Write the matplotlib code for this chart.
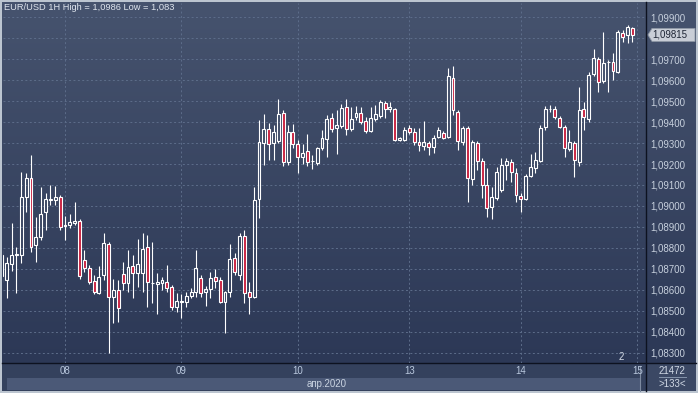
import numpy as np
import matplotlib
matplotlib.use('Agg')
import matplotlib.pyplot as plt
from matplotlib.patches import Rectangle, Polygon
from matplotlib.colors import LinearSegmentedColormap
from matplotlib.ticker import FuncFormatter

# ---------------- data (EUR/USD 1H) ----------------
opens = [1.08767, 1.08648, 1.08724, 1.08765, 1.08767, 1.09043, 1.09133, 1.08814, 1.08852, 1.08971,
         1.09030, 1.09029, 1.09043, 1.08905, 1.08910, 1.08919, 1.08929, 1.08743, 1.08705, 1.08643,
         1.08586, 1.08671, 1.08819, 1.08567, 1.08600, 1.08676, 1.08633, 1.08714, 1.08681, 1.08681,
         1.08805, 1.08633, 1.08629, 1.08633, 1.08638, 1.08614, 1.08519, 1.08543, 1.08543, 1.08571,
         1.08590, 1.08657, 1.08590, 1.08605, 1.08662, 1.08648, 1.08543, 1.08590, 1.08752, 1.08671,
         1.08857, 1.08590, 1.08567, 1.09033, 1.09300, 1.09367, 1.09300, 1.09310, 1.09443, 1.09210,
         1.09352, 1.09295, 1.09233, 1.09262, 1.09214, 1.09205, 1.09276, 1.09319, 1.09419, 1.09371,
         1.09381, 1.09471, 1.09367, 1.09424, 1.09443, 1.09405, 1.09357, 1.09414, 1.09429, 1.09490,
         1.09462, 1.09462, 1.09314, 1.09314, 1.09371, 1.09352, 1.09305, 1.09286, 1.09300, 1.09281,
         1.09329, 1.09348, 1.09329, 1.09610, 1.09448, 1.09305, 1.09371, 1.09129, 1.09300, 1.09214,
         1.09100, 1.08995, 1.09038, 1.09076, 1.09195, 1.09210, 1.09157, 1.09048, 1.09033, 1.09143,
         1.09181, 1.09214, 1.09376, 1.09462, 1.09462, 1.09419, 1.09376, 1.09271, 1.09300, 1.09210,
         1.09462, 1.09414, 1.09629, 1.09700, 1.09595, 1.09686, 1.09686, 1.09638, 1.09824, 1.09814,
         1.09848]
highs = [1.08790, 1.08757, 1.08919, 1.08805, 1.09162, 1.09157, 1.09243, 1.08948, 1.09090, 1.09062,
         1.09100, 1.09095, 1.09052, 1.08952, 1.08962, 1.09019, 1.08938, 1.08790, 1.08719, 1.08671,
         1.08714, 1.08871, 1.08829, 1.08652, 1.08648, 1.08733, 1.08790, 1.08767, 1.08843, 1.08871,
         1.08862, 1.08829, 1.08681, 1.08662, 1.08719, 1.08624, 1.08586, 1.08581, 1.08590, 1.08610,
         1.08790, 1.08671, 1.08619, 1.08686, 1.08700, 1.08662, 1.08595, 1.08819, 1.08776, 1.08871,
         1.08886, 1.08638, 1.09090, 1.09410, 1.09438, 1.09395, 1.09386, 1.09510, 1.09457, 1.09386,
         1.09390, 1.09314, 1.09295, 1.09343, 1.09243, 1.09280, 1.09362, 1.09433, 1.09443, 1.09457,
         1.09486, 1.09510, 1.09471, 1.09476, 1.09471, 1.09424, 1.09471, 1.09481, 1.09505, 1.09500,
         1.09495, 1.09467, 1.09329, 1.09376, 1.09386, 1.09371, 1.09371, 1.09405, 1.09310, 1.09338,
         1.09376, 1.09357, 1.09657, 1.09667, 1.09457, 1.09381, 1.09381, 1.09314, 1.09310, 1.09229,
         1.09181, 1.09090, 1.09186, 1.09229, 1.09229, 1.09224, 1.09181, 1.09062, 1.09152, 1.09248,
         1.09257, 1.09386, 1.09476, 1.09481, 1.09476, 1.09429, 1.09386, 1.09362, 1.09310, 1.09567,
         1.09495, 1.09638, 1.09748, 1.09710, 1.09829, 1.09695, 1.09729, 1.09838, 1.09838, 1.09860,
         1.09852]
lows = [1.08638, 1.08562, 1.08690, 1.08586, 1.08729, 1.08971, 1.08781, 1.08733, 1.08838, 1.08886,
        1.09005, 1.09005, 1.08886, 1.08838, 1.08895, 1.08910, 1.08652, 1.08686, 1.08629, 1.08581,
        1.08581, 1.08648, 1.08300, 1.08443, 1.08448, 1.08600, 1.08590, 1.08562, 1.08614, 1.08590,
        1.08519, 1.08538, 1.08486, 1.08600, 1.08590, 1.08505, 1.08495, 1.08467, 1.08519, 1.08562,
        1.08567, 1.08567, 1.08524, 1.08562, 1.08610, 1.08538, 1.08395, 1.08567, 1.08671, 1.08648,
        1.08538, 1.08486, 1.08562, 1.08943, 1.09195, 1.09219, 1.09219, 1.09300, 1.09190, 1.09195,
        1.09276, 1.09157, 1.09200, 1.09190, 1.09176, 1.09195, 1.09267, 1.09233, 1.09352, 1.09248,
        1.09371, 1.09338, 1.09357, 1.09409, 1.09390, 1.09348, 1.09352, 1.09405, 1.09419, 1.09419,
        1.09448, 1.09310, 1.09310, 1.09310, 1.09343, 1.09290, 1.09262, 1.09267, 1.09243, 1.09252,
        1.09324, 1.09319, 1.09324, 1.09433, 1.09267, 1.09290, 1.09019, 1.09100, 1.09171, 1.09038,
        1.08948, 1.08938, 1.09029, 1.09067, 1.09124, 1.09114, 1.09019, 1.08971, 1.09029, 1.09138,
        1.09157, 1.09210, 1.09362, 1.09448, 1.09414, 1.09371, 1.09233, 1.09262, 1.09138, 1.09190,
        1.09362, 1.09400, 1.09619, 1.09543, 1.09586, 1.09543, 1.09600, 1.09633, 1.09781, 1.09776,
        1.09781]
closes = [1.08667, 1.08729, 1.08767, 1.08769, 1.09043, 1.09133, 1.08805, 1.08852, 1.08962, 1.09033,
          1.09035, 1.09043, 1.08900, 1.08910, 1.08924, 1.08929, 1.08667, 1.08705, 1.08638, 1.08590,
          1.08662, 1.08824, 1.08567, 1.08600, 1.08514, 1.08633, 1.08710, 1.08681, 1.08724, 1.08795,
          1.08638, 1.08635, 1.08638, 1.08648, 1.08610, 1.08519, 1.08548, 1.08545, 1.08571, 1.08590,
          1.08705, 1.08586, 1.08605, 1.08657, 1.08643, 1.08543, 1.08590, 1.08748, 1.08686, 1.08857,
          1.08586, 1.08567, 1.09029, 1.09305, 1.09367, 1.09295, 1.09352, 1.09438, 1.09210, 1.09352,
          1.09295, 1.09233, 1.09252, 1.09210, 1.09215, 1.09276, 1.09324, 1.09414, 1.09367, 1.09386,
          1.09467, 1.09367, 1.09414, 1.09443, 1.09400, 1.09357, 1.09419, 1.09438, 1.09495, 1.09462,
          1.09471, 1.09314, 1.09324, 1.09362, 1.09352, 1.09305, 1.09290, 1.09305, 1.09281, 1.09324,
          1.09362, 1.09324, 1.09619, 1.09457, 1.09310, 1.09371, 1.09133, 1.09305, 1.09214, 1.09100,
          1.08990, 1.09043, 1.09162, 1.09195, 1.09214, 1.09162, 1.09052, 1.09033, 1.09143, 1.09186,
          1.09219, 1.09371, 1.09462, 1.09460, 1.09424, 1.09376, 1.09276, 1.09305, 1.09219, 1.09457,
          1.09424, 1.09624, 1.09705, 1.09590, 1.09681, 1.09688, 1.09643, 1.09829, 1.09805, 1.09852,
          1.09815]

day_labels = ['08', '09', '10', '13', '14', '15']
day_ticks = [13, 37, 61, 84, 107, 131]
price_ticks = [1.083, 1.084, 1.085, 1.086, 1.087, 1.088, 1.089, 1.090,
               1.091, 1.092, 1.093, 1.094, 1.095, 1.096, 1.097, 1.098, 1.099]
title_text = 'EUR/USD 1H High = 1,0986 Low = 1,083'
month_label = 'апр.2020'
last_price = closes[-1]

# ---------------- figure ----------------
W, H = 698, 393
FONT = 'Liberation Sans'
plt.rcParams['font.family'] = [FONT, 'DejaVu Sans']

fig = plt.figure(figsize=(W / 100, H / 100), dpi=100)
fig.patch.set_facecolor('#bcc5d0')

bg = fig.add_axes([0, 0, 1, 1])
bg.set_xlim(0, W)
bg.set_ylim(H, 0)
bg.axis('off')
bg.set_zorder(0)

cmap = LinearSegmentedColormap.from_list('g', ['#46536e', '#2c3856'])
bg.imshow(np.linspace(0, 1, 256).reshape(-1, 1), cmap=cmap, origin='upper',
          extent=(2, 696, 363, 2), aspect='auto', zorder=0)
# bottom strips
bg.add_patch(Rectangle((2, 363), 694, 28, facecolor='#34415d', edgecolor='none', zorder=1))
bg.add_patch(Rectangle((7, 378), 633, 12, facecolor='#4b5977', edgecolor='none', zorder=1))
bg.add_patch(Rectangle((647, 363), 49, 28, facecolor='#3b4864', edgecolor='none', zorder=1))
bg.plot([646, 646], [2, 391], color='#0d1220', lw=1.0, zorder=3)
bg.plot([2, 696], [363, 363], color='#0d1220', lw=1.0, zorder=3)
bg.plot([640, 640], [366, 391], color='#7d8aa0', lw=0.8, zorder=3)
bg.plot([659, 686], [377, 377], color='#8594ab', lw=0.7, zorder=3)

bg.text(4, 8, title_text, color='#dfe5ee', fontsize=6.7, ha='left', va='center', zorder=4)
bg.text(327, 384, month_label, color='#c9d3e1', fontsize=7, ha='center', va='center', zorder=4)
bg.text(672, 371, '21472', color='#d0d8e4', fontsize=7, ha='center', va='center', zorder=4)
bg.text(672, 384, '>133<', color='#d0d8e4', fontsize=7, ha='center', va='center', zorder=4)
bg.text(621, 357, '2', color='#d6dde8', fontsize=7, ha='center', va='center', zorder=4)

# ---------------- main candle axes ----------------
L, T, R, B = 3, 3, 646, 363
ax = fig.add_axes([L / W, 1 - B / H, (R - L) / W, (B - T) / H])
ax.set_zorder(2)
ax.patch.set_alpha(0)
ax.set_xlim(0.22, 132.8)
ax.set_ylim(1.08252, 1.09967)


def price_fmt(v, p):
    # the 1,09800 label is hidden under the last-price marker in the original
    if abs(v - 1.098) < 1e-7:
        return ''
    return f'{v:.5f}'.replace('.', ',')


ax.set_yticks(price_ticks)
ax.yaxis.set_major_formatter(FuncFormatter(price_fmt))
ax.yaxis.tick_right()
ax.tick_params(axis='y', length=0, pad=3, labelsize=7, labelcolor='#c7d0dd')
ax.set_xticks(day_ticks)
ax.set_xticklabels(day_labels)
ax.tick_params(axis='x', length=0, pad=2.5, labelsize=7, labelcolor='#b9c8de')
for s in ax.spines.values():
    s.set_visible(False)
ax.grid(True, color='#5d6d8a', linestyle=(0, (2, 2.5)), linewidth=0.7)
ax.set_axisbelow(True)

body_w = 0.6
for i, (o, h, l, c) in enumerate(zip(opens, highs, lows, closes)):
    top, bot = max(o, c), min(o, c)
    ax.vlines(i, top, h, color='white', lw=0.8, zorder=3)
    ax.vlines(i, l, bot, color='white', lw=0.8, zorder=3)
    fc = '#c8203f' if c < o else 'none'
    ax.add_patch(Rectangle((i - body_w / 2, bot), body_w, max(top - bot, 1e-6),
                           facecolor=fc, edgecolor='white', lw=0.8, zorder=4))

# last price marker (overlay axes above the candle axes)
fig.canvas.draw()
_, ypix = ax.transData.transform((0, last_price))
yl = H - ypix
ov = fig.add_axes([0, 0, 1, 1])
ov.set_xlim(0, W)
ov.set_ylim(H, 0)
ov.axis('off')
ov.set_zorder(3)
ov.patch.set_alpha(0)
ov.add_patch(Polygon([(648, yl), (652, yl - 6.5), (695, yl - 6.5), (695, yl + 6.5), (652, yl + 6.5)],
                     closed=True, facecolor='#c9ced7', edgecolor='#8f98a6', lw=0.6, zorder=5))
ov.text(652, yl, f'{last_price:.5f}'.replace('.', ','), color='#1e2535', fontsize=7,
        ha='left', va='center', zorder=6)

fig.savefig('out.png', dpi=100, facecolor=fig.get_facecolor())
